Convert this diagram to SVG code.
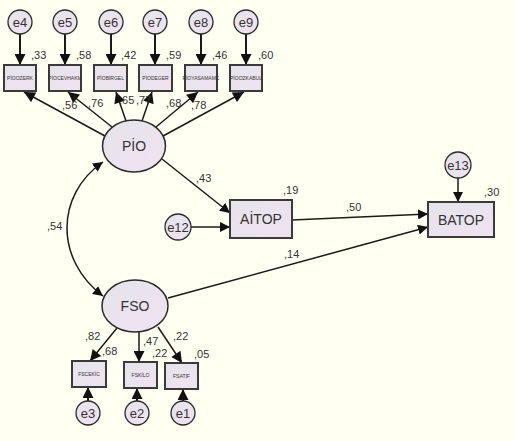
<svg xmlns="http://www.w3.org/2000/svg" width="515" height="441" viewBox="0 0 515 441">
<defs>
<linearGradient id="g" x1="0" y1="0" x2="1" y2="1">
<stop offset="0" stop-color="#e4e4ea"/>
<stop offset="1" stop-color="#f1e2f1"/>
</linearGradient>
<marker id="ar" viewBox="0 0 10 10" refX="10" refY="5" markerWidth="10" markerHeight="10" markerUnits="userSpaceOnUse" orient="auto-start-reverse">
<path d="M0,0 L10,5 L0,10 z" fill="#111"/>
</marker>
<marker id="arb" viewBox="0 0 10 10" refX="10" refY="5" markerWidth="13" markerHeight="11" markerUnits="userSpaceOnUse" orient="auto-start-reverse">
<path d="M0,0 L10,5 L0,10 z" fill="#111"/>
</marker>
</defs>
<style>
.bg{fill:#fffff2}
.box{fill:url(#g);stroke:#3a3a3a;stroke-width:2}
.ell{fill:url(#g);stroke:#2a2a2a;stroke-width:1.5}
.err{fill:url(#g);stroke:#2a2a2a;stroke-width:1.3}
.ln{stroke:#1a1a1a;stroke-width:1.5;fill:none}
.eb{stroke:#1a1a1a;stroke-width:2;fill:none}
text{font-family:"Liberation Sans",Arial,sans-serif;fill:#333}
.big{font-size:14px;text-anchor:middle}
.et{font-size:13px;text-anchor:middle}
.v{font-size:11px}
.sm{font-size:5px;text-anchor:middle}
</style>
<rect class="bg" x="0" y="0" width="515" height="441"/>
<g id="connectors">
<line class="eb" x1="20" y1="34" x2="20" y2="65" marker-end="url(#arb)"/>
<line class="eb" x1="65" y1="34" x2="65" y2="65" marker-end="url(#arb)"/>
<line class="eb" x1="111" y1="34" x2="111" y2="65" marker-end="url(#arb)"/>
<line class="eb" x1="155" y1="34" x2="155" y2="65" marker-end="url(#arb)"/>
<line class="eb" x1="201" y1="34" x2="201" y2="65" marker-end="url(#arb)"/>
<line class="eb" x1="246" y1="34" x2="246" y2="65" marker-end="url(#arb)"/>
<line class="ln" x1="105" y1="136" x2="24" y2="92" marker-end="url(#arb)"/>
<line class="ln" x1="112" y1="127" x2="68" y2="92" marker-end="url(#arb)"/>
<line class="ln" x1="126" y1="121" x2="116" y2="92" marker-end="url(#arb)"/>
<line class="ln" x1="142" y1="121" x2="152" y2="92" marker-end="url(#arb)"/>
<line class="ln" x1="156" y1="127" x2="198" y2="92" marker-end="url(#arb)"/>
<line class="ln" x1="163" y1="136" x2="244" y2="92" marker-end="url(#arb)"/>
<line class="ln" x1="162" y1="159" x2="230" y2="213" marker-end="url(#ar)"/>
<line class="ln" x1="191" y1="227" x2="230" y2="227" marker-end="url(#ar)"/>
<line class="ln" x1="292" y1="220" x2="428" y2="214" marker-end="url(#ar)"/>
<line class="ln" x1="168" y1="298" x2="428" y2="227" marker-end="url(#ar)"/>
<line class="ln" x1="458" y1="178" x2="458" y2="202" marker-end="url(#ar)"/>
<path class="ln" d="M103,162 C55,195 55,260 103,296" marker-start="url(#ar)" marker-end="url(#ar)"/>
<line class="ln" x1="117" y1="328" x2="90" y2="361" marker-end="url(#arb)"/>
<line class="ln" x1="139" y1="332" x2="139" y2="362" marker-end="url(#arb)"/>
<line class="ln" x1="158" y1="327" x2="182" y2="363" marker-end="url(#arb)"/>
<line class="eb" x1="88" y1="401" x2="88" y2="387" marker-end="url(#arb)"/>
<line class="eb" x1="137" y1="401" x2="137" y2="388" marker-end="url(#arb)"/>
<line class="eb" x1="183" y1="401" x2="183" y2="389" marker-end="url(#arb)"/>
</g>
<g id="e4"><circle class="err" cx="20" cy="22" r="12"/><text class="et" x="20" y="27">e4</text></g>
<g id="e5"><circle class="err" cx="65" cy="22" r="12"/><text class="et" x="65" y="27">e5</text></g>
<g id="e6"><circle class="err" cx="111" cy="22" r="12"/><text class="et" x="111" y="27">e6</text></g>
<g id="e7"><circle class="err" cx="155" cy="22" r="12"/><text class="et" x="155" y="27">e7</text></g>
<g id="e8"><circle class="err" cx="201" cy="22" r="12"/><text class="et" x="201" y="27">e8</text></g>
<g id="e9"><circle class="err" cx="246" cy="22" r="12"/><text class="et" x="246" y="27">e9</text></g>
<g id="PIOOZERK"><rect class="box" x="4" y="65" width="32" height="26"/><text class="sm" x="20" y="80">PİOOZERK</text><text class="v" x="31" y="59">,33</text></g>
<g id="PIOCEVHAKM"><rect class="box" x="49" y="65" width="32" height="26"/><text class="sm" x="65" y="80">PİOCEVHAKM</text><text class="v" x="76" y="59">,58</text></g>
<g id="PIOBIRGEL"><rect class="box" x="94" y="65" width="33" height="26"/><text class="sm" x="110.5" y="80">PİOBİRGEL</text><text class="v" x="121" y="59">,42</text></g>
<g id="PIODEGER"><rect class="box" x="139" y="65" width="33" height="26"/><text class="sm" x="155.5" y="80">PİODEGER</text><text class="v" x="166" y="59">,59</text></g>
<g id="PIOYASAMAMC"><rect class="box" x="185" y="65" width="32" height="26"/><text class="sm" x="201" y="80">PİOYASAMAMC</text><text class="v" x="212" y="59">,46</text></g>
<g id="PIOOZKABUL"><rect class="box" x="230" y="65" width="32" height="26"/><text class="sm" x="246" y="80">PİOOZKABUL</text><text class="v" x="258" y="59">,60</text></g>
<g id="PIO"><ellipse class="ell" cx="134" cy="146" rx="31.5" ry="26"/><text class="big" x="134" y="151">PİO</text></g>
<g id="loadings">
<text class="v" x="62" y="109">,56</text>
<text class="v" x="88" y="107">,76</text>
<text class="v" x="119" y="104">,65</text>
<text class="v" x="136" y="104">,77</text>
<text class="v" x="166" y="107">,68</text>
<text class="v" x="191" y="109">,78</text>
<text class="v" x="196" y="182">,43</text>
<text class="v" x="346" y="211">,50</text>
<text class="v" x="284" y="258">,14</text>
<text class="v" x="47" y="230">,54</text>
<text class="v" x="85" y="340">,82</text>
<text class="v" x="102" y="355">,68</text>
<text class="v" x="143" y="345">,47</text>
<text class="v" x="152" y="357">,22</text>
<text class="v" x="173" y="340">,22</text>
<text class="v" x="194" y="358">,05</text>
</g>
<g id="AITOP"><rect class="box" x="230" y="200" width="62" height="38"/><text class="big" x="261" y="224">AİTOP</text><text class="v" x="283" y="194">,19</text></g>
<g id="e12"><circle class="err" cx="178" cy="227" r="13"/><text class="et" x="178" y="232">e12</text></g>
<g id="BATOP"><rect class="box" x="428" y="202" width="66" height="35"/><text class="big" x="461" y="225">BATOP</text><text class="v" x="484" y="196">,30</text></g>
<g id="e13"><circle class="err" cx="458" cy="165" r="13"/><text class="et" x="458" y="170">e13</text></g>
<g id="FSO"><ellipse class="ell" cx="135" cy="306" rx="33" ry="26"/><text class="big" x="135" y="311">FSO</text></g>
<g id="FSCEKIC"><rect class="box" x="72" y="361" width="34" height="26"/><text class="sm" x="89" y="376">FSCEKİC</text></g>
<g id="FSKILO"><rect class="box" x="124" y="362" width="33" height="26"/><text class="sm" x="140.5" y="377">FSKİLO</text></g>
<g id="FSATIF"><rect class="box" x="165" y="363" width="33" height="26"/><text class="sm" x="181.5" y="378">FSATIF</text></g>
<g id="e3"><circle class="err" cx="88" cy="413" r="12"/><text class="et" x="88" y="418">e3</text></g>
<g id="e2"><circle class="err" cx="137" cy="413" r="12"/><text class="et" x="137" y="418">e2</text></g>
<g id="e1"><circle class="err" cx="183" cy="413" r="12"/><text class="et" x="183" y="418">e1</text></g>
</svg>
